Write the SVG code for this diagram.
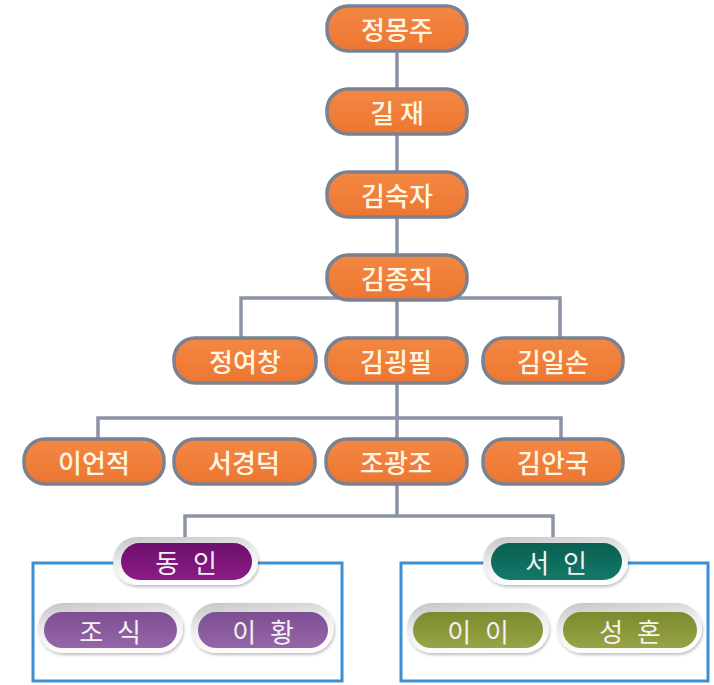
<svg xmlns="http://www.w3.org/2000/svg" width="714" height="685" viewBox="0 0 714 685">
<defs>
<linearGradient id="og" x1="0" y1="0" x2="0" y2="1"><stop offset="0" stop-color="#F38843"/><stop offset="1" stop-color="#EC7631"/></linearGradient>
<linearGradient id="bz" x1="0" y1="0" x2="0.3" y2="1"><stop offset="0" stop-color="#c4c4c4"/><stop offset="0.5" stop-color="#ececec"/><stop offset="1" stop-color="#ffffff"/></linearGradient>
<linearGradient id="pd" x1="0" y1="0" x2="0" y2="1"><stop offset="0" stop-color="#6E0F6C"/><stop offset="1" stop-color="#8A1C86"/></linearGradient>
<linearGradient id="pl" x1="0" y1="0" x2="0" y2="1"><stop offset="0" stop-color="#7D4F92"/><stop offset="1" stop-color="#9566A8"/></linearGradient>
<linearGradient id="td" x1="0" y1="0" x2="0" y2="1"><stop offset="0" stop-color="#0A5F52"/><stop offset="1" stop-color="#117A68"/></linearGradient>
<linearGradient id="ol" x1="0" y1="0" x2="0" y2="1"><stop offset="0" stop-color="#7C8A2E"/><stop offset="1" stop-color="#98A445"/></linearGradient>
<filter id="sh" x="-10%" y="-20%" width="120%" height="150%"><feDropShadow dx="1" dy="2" stdDeviation="1.5" flood-color="#000" flood-opacity="0.25"/></filter>
</defs>
<style>
.o{fill:url(#og);stroke:#7B8190;stroke-width:3.5}
.t{font-family:"Noto Sans CJK KR","Noto Sans",sans-serif;font-size:26px;font-weight:500;fill:#FFF6E4;text-anchor:middle;dominant-baseline:central}
.c{fill:none;stroke:#8C93A8;stroke-width:3.5}
.b{fill:none;stroke:#3F8ED0;stroke-width:3}
.bz{fill:url(#bz);filter:url(#sh)}
.w{font-family:"Noto Sans CJK KR","Noto Sans",sans-serif;font-size:26px;font-weight:400;fill:#F4F0F4;text-anchor:middle;dominant-baseline:central;letter-spacing:4px}
</style>
<rect width="714" height="685" fill="#ffffff"/>
<g id="connectors">
<path class="c" d="M397 50V337M241 337V298H560V337"/>
<path class="c" d="M397 383V438M98 438V418H561V438"/>
<path class="c" d="M397 484V516M185 537V516H553V537"/>
</g>
<g id="group-dongin-box"><rect class="b" x="33" y="563" width="309" height="118"/></g>
<g id="group-seoin-box"><rect class="b" x="401" y="563" width="307" height="118"/></g>
<g id="n-jeongmongju"><rect class="o" x="327" y="6" width="140" height="45" rx="21"/><text class="t" x="397" y="28">정몽주</text></g>
<g id="n-giljae"><rect class="o" x="327" y="89" width="140" height="45" rx="21"/><text class="t" x="397" y="111">길 재</text></g>
<g id="n-gimsukja"><rect class="o" x="327" y="172" width="140" height="45" rx="21"/><text class="t" x="397" y="194">김숙자</text></g>
<g id="n-gimjongjik"><rect class="o" x="327" y="255" width="140" height="45" rx="21"/><text class="t" x="397" y="277">김종직</text></g>
<g id="n-jeongyeochang"><rect class="o" x="174" y="338" width="142" height="45" rx="21"/><text class="t" x="245" y="360">정여창</text></g>
<g id="n-gimgoengpil"><rect class="o" x="326" y="338" width="141" height="45" rx="21"/><text class="t" x="396" y="360">김굉필</text></g>
<g id="n-gimilson"><rect class="o" x="483" y="338" width="140" height="45" rx="21"/><text class="t" x="553" y="360">김일손</text></g>
<g id="n-ieonjeok"><rect class="o" x="24" y="439" width="140" height="45" rx="21"/><text class="t" x="94" y="461">이언적</text></g>
<g id="n-seogyeongdeok"><rect class="o" x="174" y="439" width="141" height="45" rx="21"/><text class="t" x="244" y="461">서경덕</text></g>
<g id="n-jogwangjo"><rect class="o" x="326" y="439" width="141" height="45" rx="21"/><text class="t" x="396" y="461">조광조</text></g>
<g id="n-gimanguk"><rect class="o" x="483" y="439" width="140" height="45" rx="21"/><text class="t" x="553" y="461">김안국</text></g>
<g id="n-dongin"><rect class="bz" x="113" y="537" width="145" height="48" rx="24"/><rect x="121" y="543" width="131" height="37" rx="18.5" fill="url(#pd)"/><text class="w" x="188" y="561">동 인</text></g>
<g id="n-seoin"><rect class="bz" x="483" y="537" width="145" height="48" rx="24"/><rect x="491" y="543" width="131" height="37" rx="18.5" fill="url(#td)"/><text class="w" x="558" y="561">서 인</text></g>
<g id="n-josik"><rect class="bz" x="38" y="603" width="145" height="50" rx="25"/><rect x="44" y="612" width="133" height="36" rx="18" fill="url(#pl)"/><text class="w" x="112" y="630">조 식</text></g>
<g id="n-ihwang"><rect class="bz" x="191" y="603" width="143" height="50" rx="25"/><rect x="198" y="612" width="130" height="36" rx="18" fill="url(#pl)"/><text class="w" x="265" y="630">이 황</text></g>
<g id="n-ii"><rect class="bz" x="407" y="603" width="142" height="50" rx="25"/><rect x="413" y="612" width="130" height="36" rx="18" fill="url(#ol)"/><text class="w" x="480" y="630">이 이</text></g>
<g id="n-seonghon"><rect class="bz" x="557" y="603" width="145" height="50" rx="25"/><rect x="563" y="612" width="134" height="36" rx="18" fill="url(#ol)"/><text class="w" x="632" y="630">성 혼</text></g>
</svg>
